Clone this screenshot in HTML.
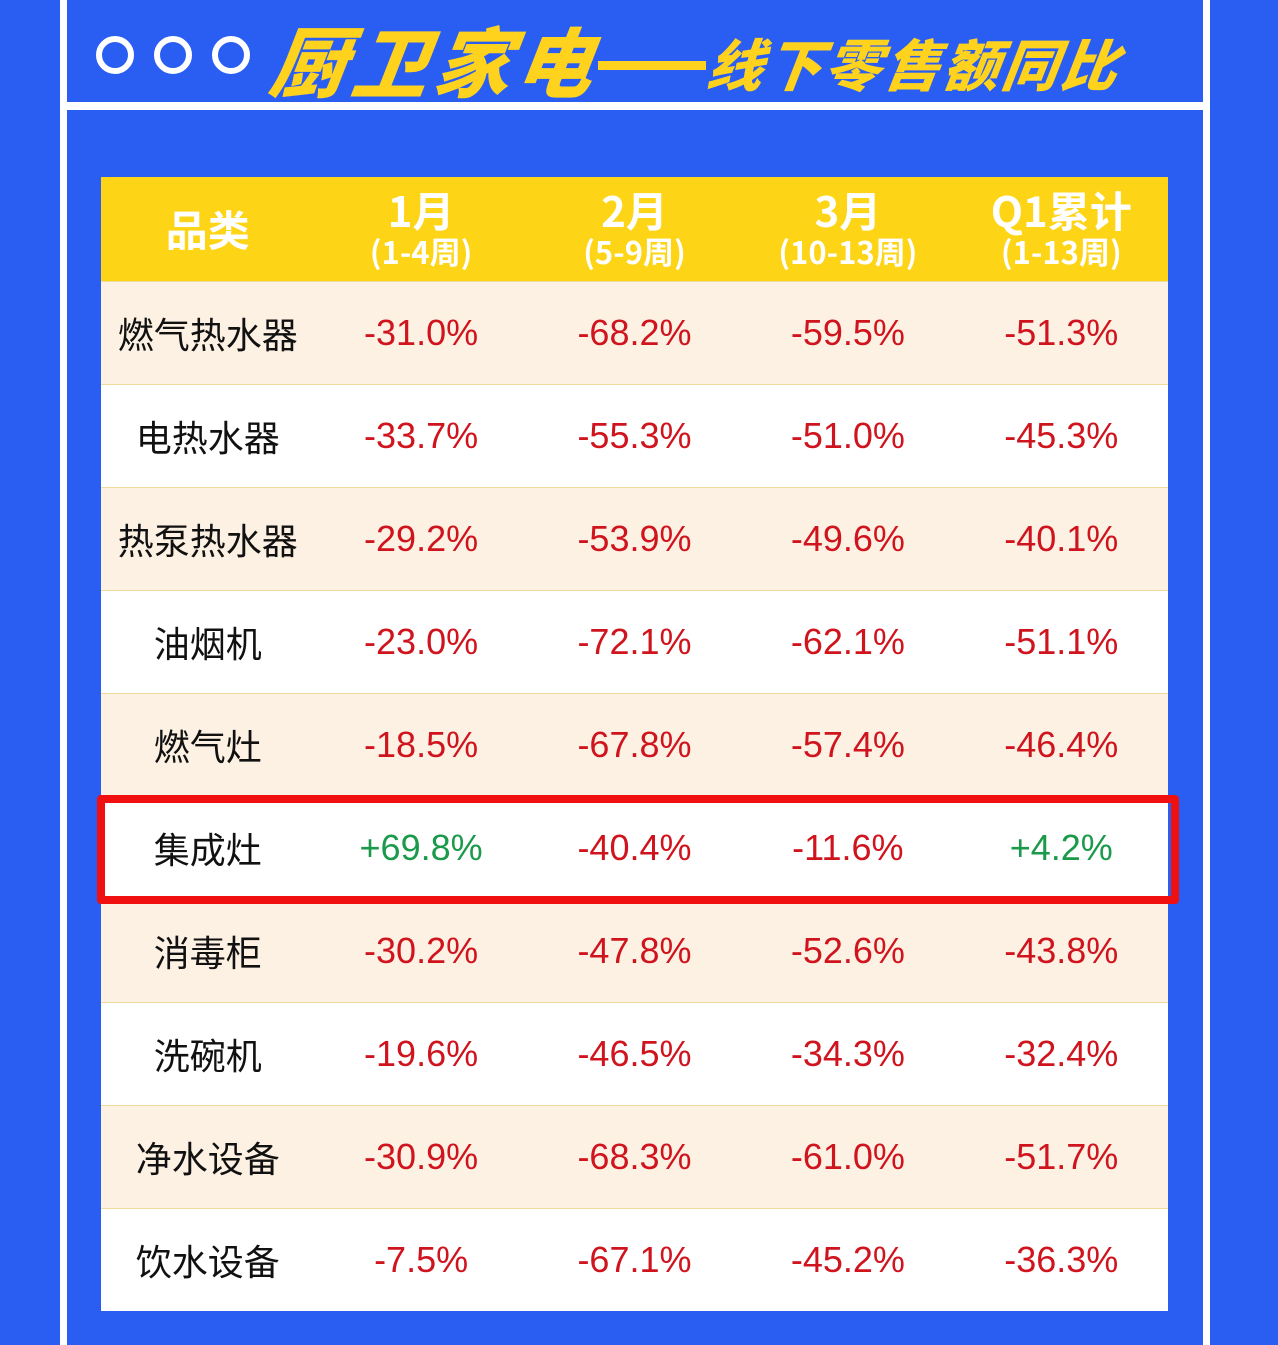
<!DOCTYPE html>
<html><head><meta charset="utf-8"><style>
body{margin:0;width:1278px;height:1345px;background:#2a5ef2;position:relative;overflow:hidden;font-family:"Liberation Sans","Noto Sans CJK SC",sans-serif}
.v{position:absolute;top:0;width:7px;height:1345px;background:#fff}
.h{position:absolute;left:60px;width:1150px;top:102px;height:8px;background:#fff}
.c{position:absolute;top:36px;width:26px;height:26px;border:6px solid #fff;border-radius:50%}
.t{position:absolute;color:#ffd21e;font-weight:900;font-style:italic;white-space:nowrap;font-family:"Noto Sans CJK SC",sans-serif;transform:skewX(-8deg)}
.t1{left:272px;top:8px;font-size:76px;letter-spacing:6px;line-height:100px}
.t2{left:708px;top:28px;font-size:56px;letter-spacing:3px;line-height:70px}
.dash{position:absolute;left:598px;top:61px;width:108px;height:9px;background:#ffd21e}
table{position:absolute;left:101px;top:177px;width:1067px;border-collapse:collapse;table-layout:fixed}
td{height:102px;padding:0;text-align:center;font-size:36px;color:#d0141e;border-top:1px solid #f0dc9a}
td:first-child{color:#111;font-size:36px;font-family:"Noto Sans CJK SC",sans-serif}
tr.o td{background:#fdf1e3}
tr.e td{background:#fff}
th{background:#fdd416;color:#fff;height:102px;font-weight:bold;font-size:42px;line-height:44px;font-family:"Noto Sans CJK SC",sans-serif}
th small{font-size:31px;display:block;line-height:38px}
.g{color:#1a9a4a}
.box{position:absolute;left:97px;top:795px;width:1066px;height:93px;border:8px solid #f01010;border-radius:4px}
</style></head><body>
<div class="v" style="left:60px"></div><div class="v" style="left:1203px"></div>
<div class="h"></div>
<div class="c" style="left:96px"></div><div class="c" style="left:154px"></div><div class="c" style="left:212px"></div>
<div class="t t1">厨卫家电</div><div class="dash"></div><div class="t t2">线下零售额同比</div>
<table>
<tr><th>品类</th><th>1月<small>(1-4周)</small></th><th>2月<small>(5-9周)</small></th><th>3月<small>(10-13周)</small></th><th>Q1累计<small>(1-13周)</small></th></tr>
<tr class="o"><td>燃气热水器</td><td>-31.0%</td><td>-68.2%</td><td>-59.5%</td><td>-51.3%</td></tr>
<tr class="e"><td>电热水器</td><td>-33.7%</td><td>-55.3%</td><td>-51.0%</td><td>-45.3%</td></tr>
<tr class="o"><td>热泵热水器</td><td>-29.2%</td><td>-53.9%</td><td>-49.6%</td><td>-40.1%</td></tr>
<tr class="e"><td>油烟机</td><td>-23.0%</td><td>-72.1%</td><td>-62.1%</td><td>-51.1%</td></tr>
<tr class="o"><td>燃气灶</td><td>-18.5%</td><td>-67.8%</td><td>-57.4%</td><td>-46.4%</td></tr>
<tr class="e"><td>集成灶</td><td class="g">+69.8%</td><td>-40.4%</td><td>-11.6%</td><td class="g">+4.2%</td></tr>
<tr class="o"><td>消毒柜</td><td>-30.2%</td><td>-47.8%</td><td>-52.6%</td><td>-43.8%</td></tr>
<tr class="e"><td>洗碗机</td><td>-19.6%</td><td>-46.5%</td><td>-34.3%</td><td>-32.4%</td></tr>
<tr class="o"><td>净水设备</td><td>-30.9%</td><td>-68.3%</td><td>-61.0%</td><td>-51.7%</td></tr>
<tr class="e"><td>饮水设备</td><td>-7.5%</td><td>-67.1%</td><td>-45.2%</td><td>-36.3%</td></tr>
</table>
<div class="box"></div>
</body></html>
